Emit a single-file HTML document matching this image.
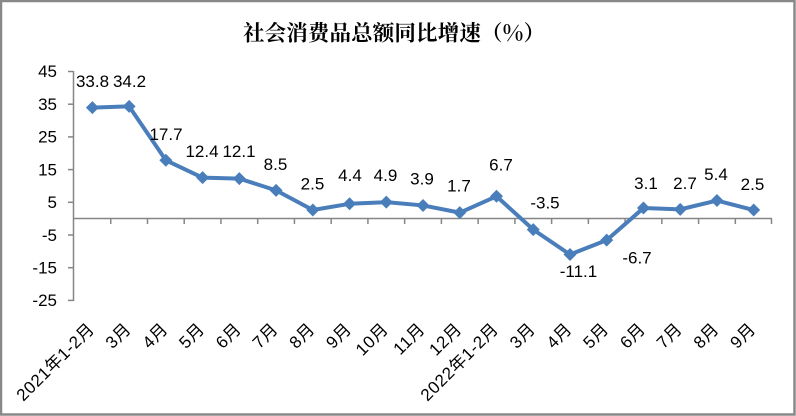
<!DOCTYPE html>
<html><head><meta charset="utf-8"><style>
html,body{margin:0;padding:0;background:#fff;}
svg{display:block;}
text{font-family:"Liberation Sans","Noto Sans CJK SC",sans-serif;fill:#000;}
</style></head><body>
<svg width="796" height="416" viewBox="0 0 796 416" xmlns="http://www.w3.org/2000/svg">
<rect x="0" y="0" width="796" height="416" fill="#fff"/>
<rect x="1" y="1" width="793.5" height="413.5" fill="none" stroke="#888" stroke-width="2.5"/>
<text x="394" y="40.5" text-anchor="middle" font-size="21.5" font-weight="bold" style="font-family:'Noto Serif CJK SC','Noto Sans CJK SC',serif" textLength="302" lengthAdjust="spacing">社会消费品总额同比增速（%）</text>
<g stroke="#868686" stroke-width="1.5" fill="none">
<line x1="73.5" y1="71" x2="73.5" y2="301"/>
<line x1="68" y1="71.5" x2="73.5" y2="71.5"/>
<line x1="68" y1="104.2" x2="73.5" y2="104.2"/>
<line x1="68" y1="136.9" x2="73.5" y2="136.9"/>
<line x1="68" y1="169.6" x2="73.5" y2="169.6"/>
<line x1="68" y1="202.3" x2="73.5" y2="202.3"/>
<line x1="68" y1="235" x2="73.5" y2="235"/>
<line x1="68" y1="267.7" x2="73.5" y2="267.7"/>
<line x1="68" y1="300.4" x2="73.5" y2="300.4"/>
<line x1="73.5" y1="218.5" x2="772" y2="218.5"/>
<path d="M110.74 218.5v5.5M147.48 218.5v5.5M184.22 218.5v5.5M220.96 218.5v5.5M257.7 218.5v5.5M294.44 218.5v5.5M331.18 218.5v5.5M367.92 218.5v5.5M404.66 218.5v5.5M441.4 218.5v5.5M478.14 218.5v5.5M514.88 218.5v5.5M551.62 218.5v5.5M588.36 218.5v5.5M625.1 218.5v5.5M661.84 218.5v5.5M698.58 218.5v5.5M735.32 218.5v5.5M771.5 218.5v5.5"/>
</g>
<g font-size="17" text-anchor="end">
<text x="57" y="77">45</text>
<text x="57" y="110">35</text>
<text x="57" y="142.5">25</text>
<text x="57" y="175.5">15</text>
<text x="57" y="208">5</text>
<text x="57" y="241">-5</text>
<text x="57" y="273.5">-15</text>
<text x="57" y="306">-25</text>
</g>
<polyline fill="none" stroke="#4A7EBB" stroke-width="4" stroke-linejoin="round" points="92.37,107.64 129.11,106.33 165.85,160.3 202.59,177.64 239.33,178.62 276.07,190.4 312.81,210.02 349.55,203.81 386.29,202.17 423.03,205.44 459.77,212.64 496.51,196.28 533.25,229.65 569.99,254.51 606.73,240.12 643.47,208.06 680.21,209.37 716.95,200.54 753.69,210.02"/>
<g fill="#4A7EBB">
<path d="M92.37 101.14l6.5 6.5l-6.5 6.5l-6.5-6.5z"/>
<path d="M129.11 99.83l6.5 6.5l-6.5 6.5l-6.5-6.5z"/>
<path d="M165.85 153.8l6.5 6.5l-6.5 6.5l-6.5-6.5z"/>
<path d="M202.59 171.14l6.5 6.5l-6.5 6.5l-6.5-6.5z"/>
<path d="M239.33 172.12l6.5 6.5l-6.5 6.5l-6.5-6.5z"/>
<path d="M276.07 183.9l6.5 6.5l-6.5 6.5l-6.5-6.5z"/>
<path d="M312.81 203.52l6.5 6.5l-6.5 6.5l-6.5-6.5z"/>
<path d="M349.55 197.31l6.5 6.5l-6.5 6.5l-6.5-6.5z"/>
<path d="M386.29 195.67l6.5 6.5l-6.5 6.5l-6.5-6.5z"/>
<path d="M423.03 198.94l6.5 6.5l-6.5 6.5l-6.5-6.5z"/>
<path d="M459.77 206.14l6.5 6.5l-6.5 6.5l-6.5-6.5z"/>
<path d="M496.51 189.78l6.5 6.5l-6.5 6.5l-6.5-6.5z"/>
<path d="M533.25 223.15l6.5 6.5l-6.5 6.5l-6.5-6.5z"/>
<path d="M569.99 248.01l6.5 6.5l-6.5 6.5l-6.5-6.5z"/>
<path d="M606.73 233.62l6.5 6.5l-6.5 6.5l-6.5-6.5z"/>
<path d="M643.47 201.56l6.5 6.5l-6.5 6.5l-6.5-6.5z"/>
<path d="M680.21 202.87l6.5 6.5l-6.5 6.5l-6.5-6.5z"/>
<path d="M716.95 194.04l6.5 6.5l-6.5 6.5l-6.5-6.5z"/>
<path d="M753.69 203.52l6.5 6.5l-6.5 6.5l-6.5-6.5z"/>
</g>
<g font-size="17" text-anchor="middle">
<text x="92.5" y="87">33.8</text>
<text x="129.5" y="87">34.2</text>
<text x="166" y="140">17.7</text>
<text x="202" y="157">12.4</text>
<text x="239" y="157">12.1</text>
<text x="275.5" y="170">8.5</text>
<text x="312.5" y="189.5">2.5</text>
<text x="350" y="181">4.4</text>
<text x="385.5" y="181">4.9</text>
<text x="422" y="184.5">3.9</text>
<text x="459" y="191.5">1.7</text>
<text x="501" y="170.7">6.7</text>
<text x="545" y="208.3">-3.5</text>
<text x="578.5" y="277">-11.1</text>
<text x="637" y="263.3">-6.7</text>
<text x="646" y="189">3.1</text>
<text x="685" y="189">2.7</text>
<text x="716" y="180">5.4</text>
<text x="752.5" y="190">2.5</text>
</g>
<g font-size="17" text-anchor="end" letter-spacing="0.6">
<text transform="translate(95.4,330) rotate(-45)">2021年1-2月</text>
<text transform="translate(132.1,330) rotate(-45)">3月</text>
<text transform="translate(168.9,330) rotate(-45)">4月</text>
<text transform="translate(205.6,330) rotate(-45)">5月</text>
<text transform="translate(242.3,330) rotate(-45)">6月</text>
<text transform="translate(279.1,330) rotate(-45)">7月</text>
<text transform="translate(315.8,330) rotate(-45)">8月</text>
<text transform="translate(352.6,330) rotate(-45)">9月</text>
<text transform="translate(389.3,330) rotate(-45)">10月</text>
<text transform="translate(426,330) rotate(-45)">11月</text>
<text transform="translate(462.8,330) rotate(-45)">12月</text>
<text transform="translate(499.5,330) rotate(-45)">2022年1-2月</text>
<text transform="translate(536.3,330) rotate(-45)">3月</text>
<text transform="translate(573,330) rotate(-45)">4月</text>
<text transform="translate(609.7,330) rotate(-45)">5月</text>
<text transform="translate(646.5,330) rotate(-45)">6月</text>
<text transform="translate(683.2,330) rotate(-45)">7月</text>
<text transform="translate(720,330) rotate(-45)">8月</text>
<text transform="translate(756.7,330) rotate(-45)">9月</text>
</g>
</svg>
</body></html>
